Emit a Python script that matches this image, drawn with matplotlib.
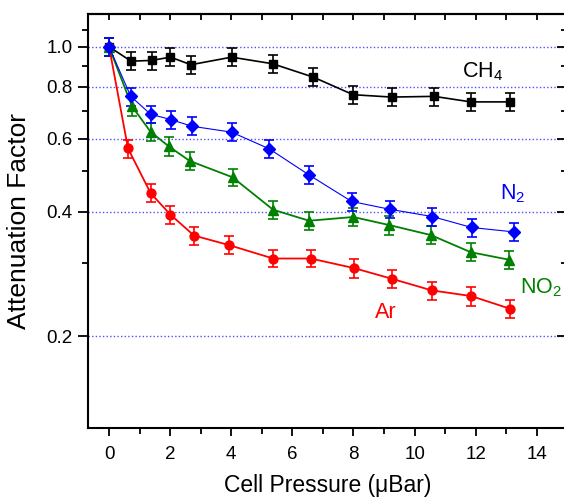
#!/usr/bin/env python3
"""
attenuation factor vs cell pressure for four gases
"""

import matplotlib
matplotlib.use('Agg')
import matplotlib.pyplot as plt
from matplotlib.ticker import FixedLocator, FixedFormatter, MultipleLocator, NullFormatter

plt.rcParams['font.family'] = ['Liberation Sans', 'DejaVu Sans']
plt.rcParams['mathtext.fontset'] = 'custom'
plt.rcParams['mathtext.rm'] = 'Liberation Sans'
plt.rcParams['mathtext.it'] = 'Liberation Sans:italic'

# CH4 (black squares)
ch4_x = [0, 0.72, 1.39, 2.01, 2.68, 4.01, 5.35, 6.68, 7.99, 9.25, 10.64, 11.84, 13.12]
ch4_y = [1.0, 0.923, 0.927, 0.944, 0.905, 0.944, 0.910, 0.845, 0.766, 0.756, 0.759, 0.736, 0.736]
ch4_err = [0.05, 0.046, 0.046, 0.047, 0.045, 0.047, 0.046, 0.042, 0.038, 0.038, 0.038, 0.037, 0.037]

# N2 (blue diamonds)
n2_x = [0, 0.71, 1.36, 2.03, 2.70, 4.01, 5.24, 6.55, 7.94, 9.19, 10.58, 11.87, 13.27]
n2_y = [1.0, 0.759, 0.687, 0.667, 0.643, 0.622, 0.567, 0.490, 0.423, 0.405, 0.389, 0.366, 0.357]
n2_err = [0.05, 0.038, 0.034, 0.033, 0.032, 0.031, 0.028, 0.025, 0.021, 0.020, 0.019, 0.018, 0.018]

# NO2 (green triangles)
no2_x = [0, 0.75, 1.36, 1.95, 2.64, 4.04, 5.37, 6.55, 7.99, 9.17, 10.53, 11.84, 13.09]
no2_y = [1.0, 0.718, 0.623, 0.575, 0.530, 0.484, 0.404, 0.380, 0.388, 0.371, 0.351, 0.319, 0.306]
no2_err = [0.05, 0.036, 0.031, 0.029, 0.027, 0.024, 0.020, 0.019, 0.019, 0.019, 0.018, 0.016, 0.015]

# Ar (red circles)
ar_x = [0, 0.62, 1.36, 2.01, 2.78, 3.92, 5.37, 6.60, 8.02, 9.27, 10.56, 11.85, 13.12]
ar_y = [1.0, 0.568, 0.443, 0.393, 0.350, 0.332, 0.308, 0.308, 0.292, 0.275, 0.258, 0.250, 0.233]
ar_err = [0.05, 0.028, 0.022, 0.020, 0.018, 0.017, 0.015, 0.015, 0.015, 0.014, 0.013, 0.013, 0.012]

y_major = [0.2, 0.4, 0.6, 0.8, 1.0]
y_major_labels = ['0.2', '0.4', '0.6', '0.8', '1.0']
y_minor = [0.3, 0.5, 0.7, 0.9, 1.1]

fig = plt.figure(figsize=(5.64, 5.0), dpi=100)
ax = fig.add_axes([0.1555, 0.144, 0.8504, 0.828])
ax.set_yscale('log')

# dotted guide lines at the labelled values
for yv in y_major:
    ax.axhline(yv, color='#4f4fff', lw=1.0, ls=(0, (1, 1.6)), zorder=0)

series = [
    (ch4_x, ch4_y, ch4_err, 'black', 's', 6.0, 1.2),
    (ar_x, ar_y, ar_err, 'red', 'o', 6.4, 1.3),
    (no2_x, no2_y, no2_err, 'green', '^', 7.4, 1.3),
    (n2_x, n2_y, n2_err, 'blue', 'D', 6.0, 0.8),
]
for x, y, err, col, mk, ms, lw in series:
    ax.errorbar(x, y, yerr=err, color=col, marker=mk, ms=ms, lw=lw,
                elinewidth=1.2, capsize=3.5, capthick=1.2, zorder=3)

ax.set_xlim(-0.7, 15.0)
ax.set_ylim(0.12, 1.2)

ax.xaxis.set_major_locator(MultipleLocator(2))
ax.xaxis.set_minor_locator(MultipleLocator(1))
ax.yaxis.set_major_locator(FixedLocator(y_major))
ax.yaxis.set_major_formatter(FixedFormatter(y_major_labels))
ax.yaxis.set_minor_locator(FixedLocator(y_minor))
ax.yaxis.set_minor_formatter(NullFormatter())

ax.tick_params(axis='both', which='major', labelsize=13.5, width=1.3)
ax.tick_params(axis='both', which='minor', width=1.3)
ax.tick_params(axis='x', which='major', direction='out', length=6, pad=7)
ax.tick_params(axis='x', which='minor', direction='out', length=4)
ax.tick_params(axis='y', which='major', direction='out', length=7, pad=4)
ax.tick_params(axis='y', which='minor', direction='out', length=4)

# inward ticks on top and right, no labels
ax_top = ax.secondary_xaxis('top')
ax_top.xaxis.set_major_locator(MultipleLocator(1))
ax_top.xaxis.set_major_formatter(NullFormatter())
ax_top.xaxis.set_minor_formatter(NullFormatter())
ax_top.tick_params(which='both', direction='in', length=4.5, width=1.3)
ax_right = ax.secondary_yaxis('right')
ax_right.yaxis.set_major_locator(FixedLocator(y_major))
ax_right.yaxis.set_minor_locator(FixedLocator(y_minor))
ax_right.yaxis.set_major_formatter(NullFormatter())
ax_right.yaxis.set_minor_formatter(NullFormatter())
ax_right.tick_params(which='major', direction='in', length=7, width=1.3)
ax_right.tick_params(which='minor', direction='in', length=4, width=1.3)

for sp in ax.spines.values():
    sp.set_linewidth(1.5)
ax_top.spines['top'].set_linewidth(1.5)
ax_right.spines['right'].set_linewidth(1.5)

ax.set_xlabel('Cell Pressure (\u03bcBar)', fontsize=16.5, labelpad=8)
ax.set_ylabel('Attenuation Factor', fontsize=19, labelpad=11)

ax.text(11.54, 0.845, 'CH$_4$', color='black', fontsize=15.5, va='baseline')
ax.text(12.80, 0.429, 'N$_2$', color='blue', fontsize=15.5, va='baseline')
ax.text(13.45, 0.254, 'NO$_2$', color='green', fontsize=15.5, va='baseline')
ax.text(8.70, 0.2207, 'Ar', color='red', fontsize=15.5, va='baseline')

fig.savefig('out.png', dpi=100)
